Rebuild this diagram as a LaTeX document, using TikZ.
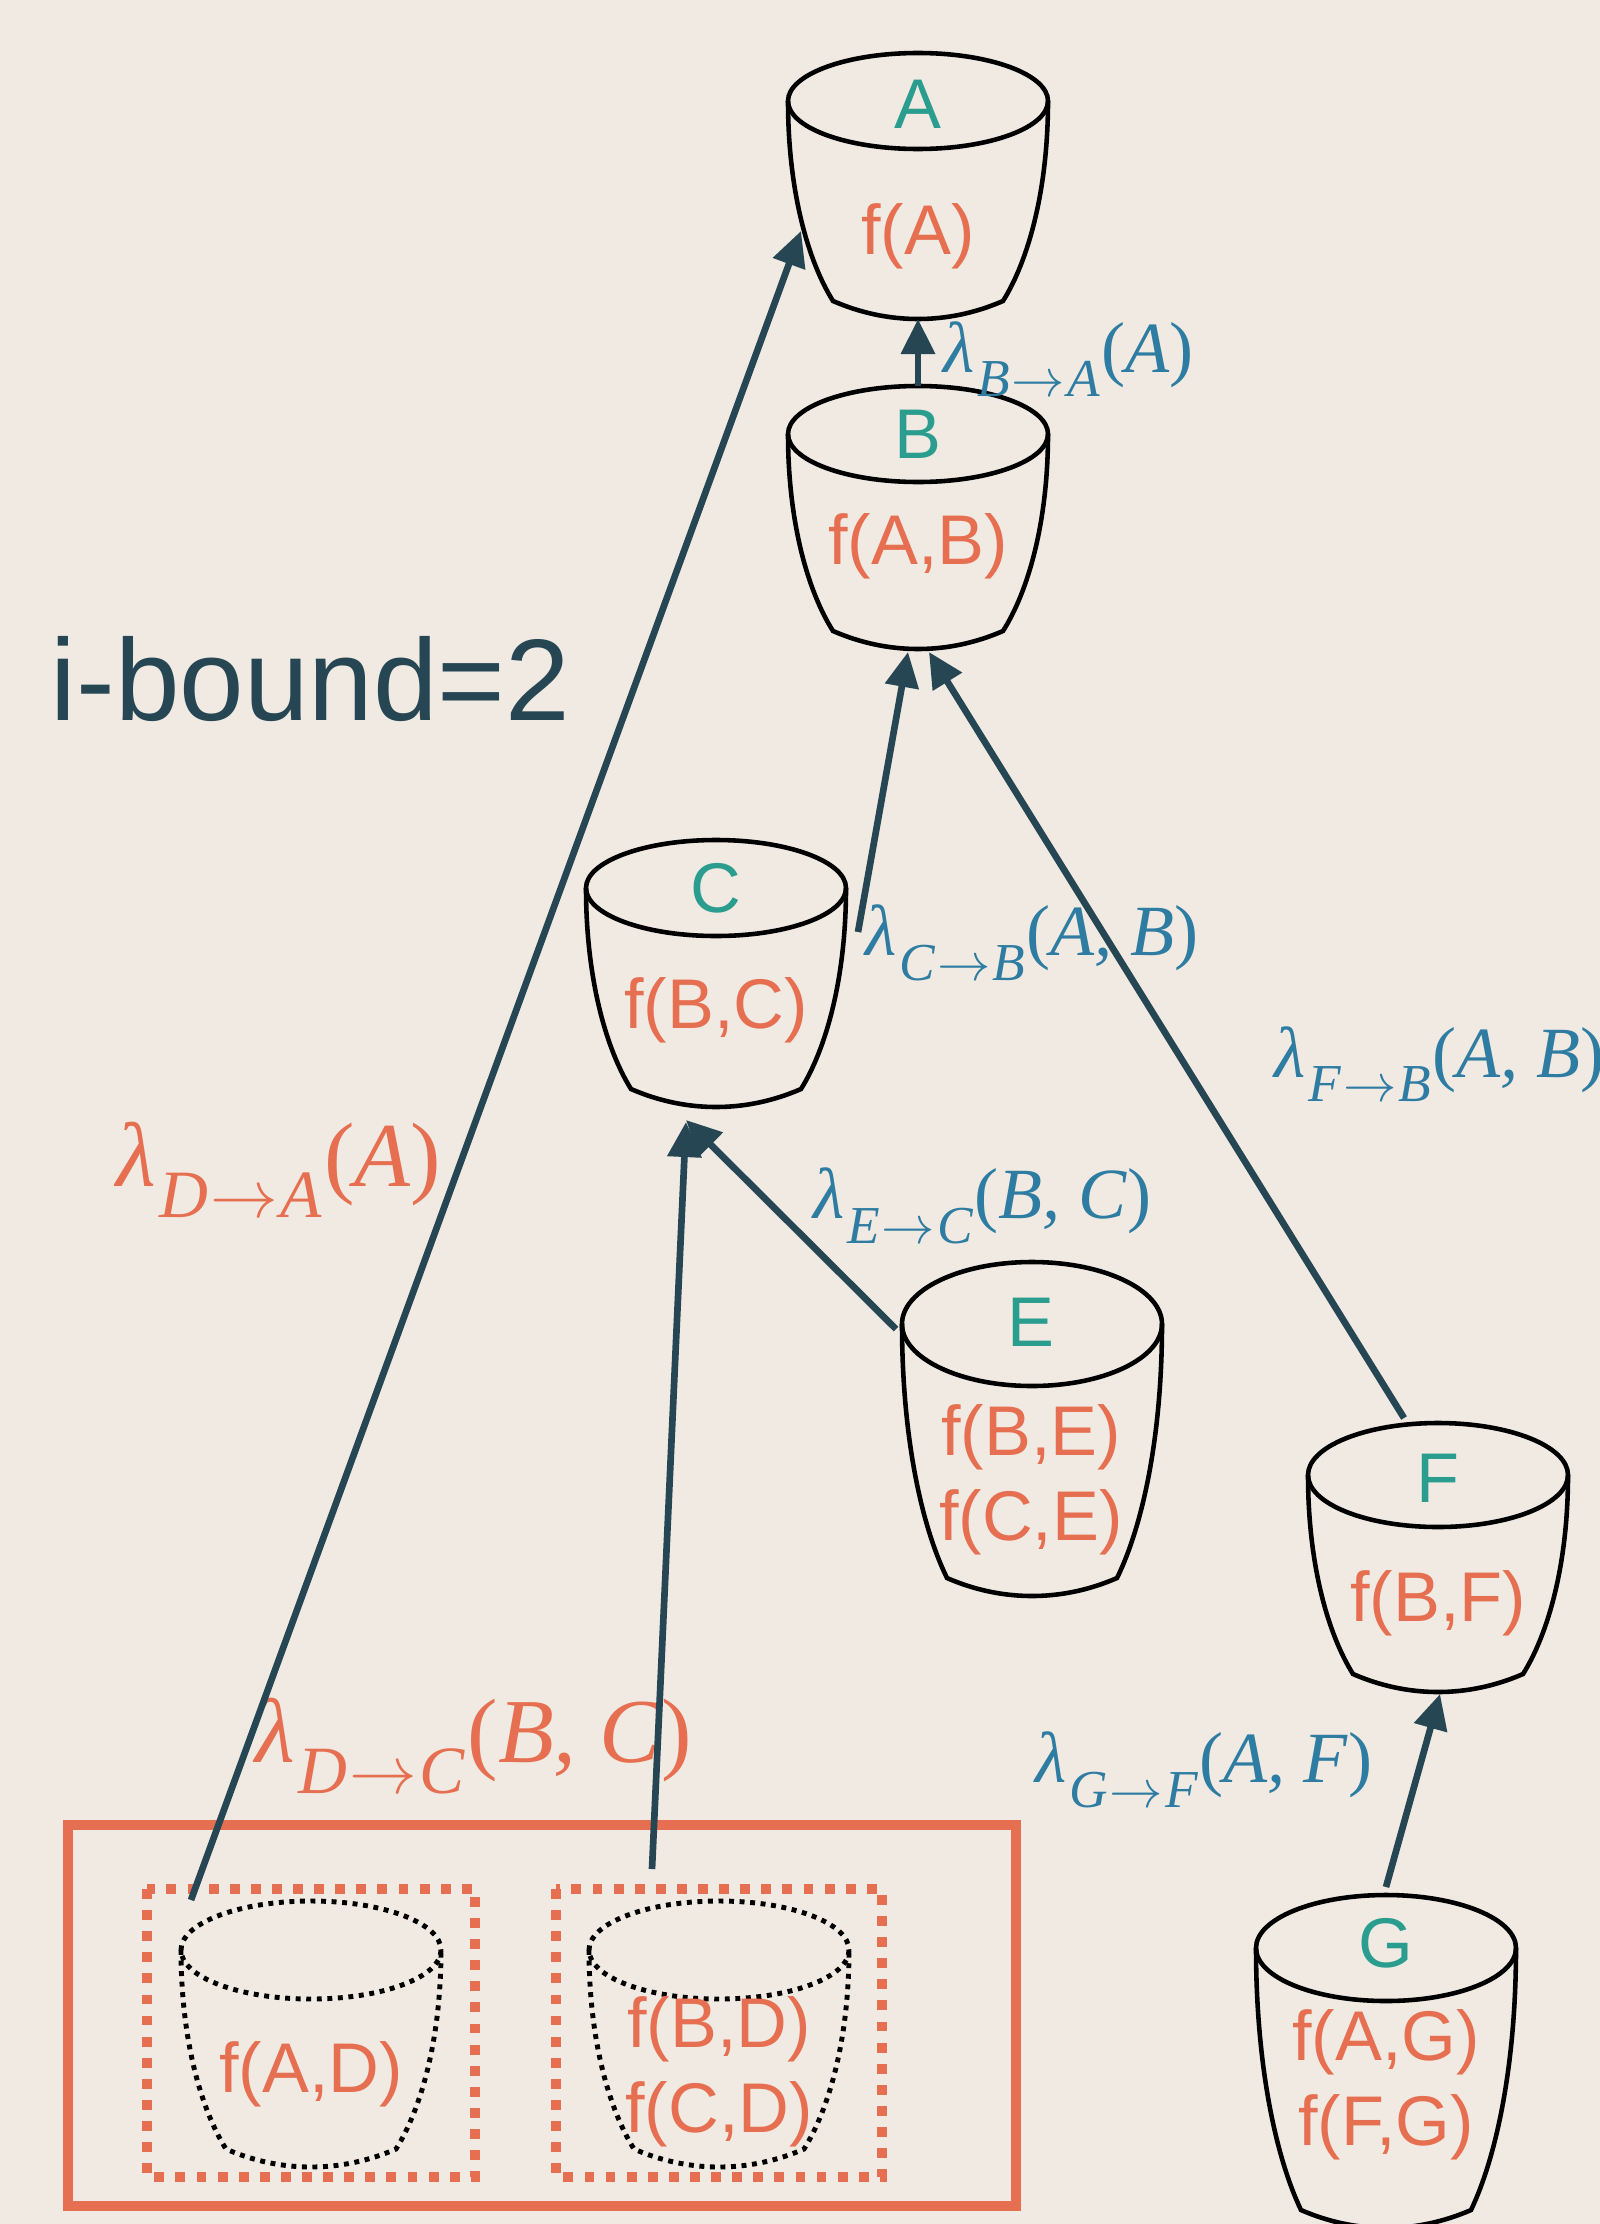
\RequirePackage{fix-cm}
\documentclass[tikz,border=0pt]{standalone}
\usepackage{fontspec}
\setmainfont{Liberation Sans}
\newfontfamily\msgfont{Liberation Serif}
\usetikzlibrary{arrows.meta}

\definecolor{bgcream}{HTML}{F0EAE2}
\definecolor{slate}{HTML}{264653}
\definecolor{varteal}{HTML}{2A9D8F}
\definecolor{factororange}{HTML}{E76F51}
\definecolor{msgblue}{HTML}{2E7CA1}

% lambda_{from->to}(scope)
\newcommand\msgname[3]{{\msgfont\textit{λ}\kern0.03em\raisebox{-0.34em}{\scalebox{0.74}{\textit{#1}\kern0.04em$\rightarrow$\kern0.04em\textit{#2}}}\kern0.02em(\textit{#3})}}

\tikzset{
  bucketline/.style={line width=1.3pt, draw=black},
  dotbucket/.style={line width=1.4pt, draw=black, dash pattern=on 1.4pt off 1.6pt},
  varname/.style={text=varteal, inner sep=0pt, font=\fontsize{20}{24}\selectfont},
  factor/.style={text=factororange, inner sep=0pt, align=center, font=\fontsize{20}{24.2}\selectfont},
  msglabel/.style={text=msgblue, inner sep=0pt, anchor=west, font=\fontsize{20.5}{24}\selectfont},
  minilabel/.style={text=factororange, inner sep=0pt, anchor=west, font=\fontsize{26}{30}\selectfont},
  msg/.style={-{Triangle[length=0.35cm, width=0.33cm]}, line width=1.9pt, draw=slate},
  pics/bucket/.style 2 args={code={
    \draw (-130,0) .. controls (-130,0.45*#2) and (-110,0.8*#2) .. (-85,#2)
      .. controls (-30,#2+24) and (30,#2+24) .. (85,#2)
      .. controls (110,0.8*#2) and (130,0.45*#2) .. (130,0);
    \draw (0,0) ellipse [x radius=130, y radius=#1];
    \coordinate (-top) at (0,-#1);
    \coordinate (-bot) at (0,#2+18);
    \coordinate (-left) at (-130,0);
    \coordinate (-right) at (130,0);
  }}
}

\begin{document}
\begin{tikzpicture}[x=0.01cm, y=-0.01cm]
  \useasboundingbox (0,0) rectangle (1600,2224);
  \fill[bgcream] (0,0) rectangle (1600,2224);

  % clusters
  \pic[bucketline] (A) at (918,101) {bucket={48}{200}};
  \pic[bucketline] (B) at (918,434) {bucket={48}{197}};
  \pic[bucketline] (C) at (716,888) {bucket={48}{201}};
  \pic[bucketline] (E) at (1032,1324) {bucket={62}{254}};
  \pic[bucketline] (F) at (1438,1475) {bucket={52}{199}};
  \pic[bucketline] (G) at (1386,1948) {bucket={53}{262}};
  \pic[dotbucket] (D1) at (311,1950) {bucket={49}{199}};
  \pic[dotbucket] (D2) at (719,1950) {bucket={49}{199}};

  \node[varname] (nA) at (918,104) {A};
  \node[factor] (fA) at (918,236) {f(A)};
  \node[varname] (nB) at (918,434) {B};
  \node[factor] (fB) at (918,546) {f(A,B)};
  \node[varname] (nC) at (716,888) {C};
  \node[factor] (fC) at (716,1010) {f(B,C)};
  \node[varname] (nE) at (1031,1322) {E};
  \node[factor] (fE) at (1031,1480) {f(B,E)\\f(C,E)};
  \node[varname] (nF) at (1438,1478) {F};
  \node[factor] (fF) at (1438,1603) {f(B,F)};
  \node[varname] (nG) at (1386,1943) {G};
  \node[factor] (fG) at (1386,2085) {f(A,G)\\f(F,G)};
  \node[factor] (fD1) at (311,2074) {f(A,D)};
  \node[factor] (fD2) at (719,2072) {f(B,D)\\f(C,D)};

  % mini-buckets
  \draw[factororange, line width=2.8pt, dash pattern=on 2.8pt off 3.2pt] (147,1889) rectangle (475,2177);
  \draw[factororange, line width=2.8pt, dash pattern=on 2.8pt off 3.2pt] (556,1889) rectangle (882,2177);
  \draw[factororange, line width=2.6pt] (68,1825) rectangle (1016,2206);

  \node[anchor=base west, inner sep=0pt, text=slate, font=\fontsize{33}{40}\selectfont] (ibound) at (50,720) {i-bound=2};

  % message labels
  \node[msglabel] (lBA) at (943,359) {\msgname{B}{A}{A}};
  \node[msglabel] (lCB) at (865,943) {\msgname{C}{B}{A, B}};
  \node[msglabel] (lFB) at (1274,1064) {\msgname{F}{B}{A, B}};
  \node[msglabel] (lEC) at (813,1206) {\msgname{E}{C}{B, C}};
  \node[msglabel] (lGF) at (1035,1770) {\msgname{G}{F}{A, F}};
  \node[minilabel] (lDA) at (116,1170) {\msgname{D}{A}{A}};
  \node[minilabel] (lDC) at (255,1746) {\msgname{D}{C}{B, C}};

  % connector ends
  \coordinate (CtoB) at (858,932);
  \coordinate (BinC) at (908,652);
  \coordinate (FtoB) at (1404,1418);
  \coordinate (BinF) at (929,652);
  \coordinate (EtoC) at (896,1329);
  \coordinate (CinE) at (686,1120);
  \coordinate (DtoC) at (652,1869);
  \coordinate (CinD) at (686,1122);
  \coordinate (DtoA) at (191,1900);
  \coordinate (AinD) at (801,231);
  \coordinate (GtoF) at (1386,1887);
  \coordinate (FinG) at (1440,1694);

  \draw[msg] (B-top) -- (A-bot);
  \draw[msg] (CtoB) -- (BinC);
  \draw[msg] (FtoB) -- (BinF);
  \draw[msg] (EtoC) -- (CinE);
  \draw[msg] (DtoC) -- (CinD);
  \draw[msg] (DtoA) -- (AinD);
  \draw[msg] (GtoF) -- (FinG);
\end{tikzpicture}
\end{document}
